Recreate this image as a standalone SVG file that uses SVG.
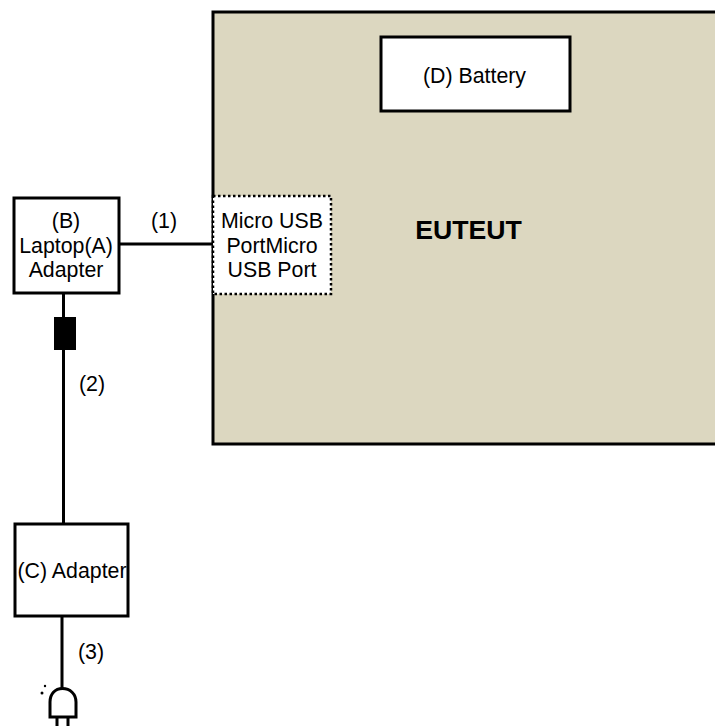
<svg xmlns="http://www.w3.org/2000/svg" width="715" height="726" viewBox="0 0 715 726">
<style>
.b{stroke:#000;stroke-width:3;fill:#fff}
.w{stroke:#000;stroke-width:3;fill:none}
text{font-family:"Liberation Sans",Arial,sans-serif;font-size:21.330px;fill:#000;text-anchor:middle}
</style>
<rect width="715" height="726" fill="#fff"/>
<g id="eut"><path d="M716 12H213V444H716" fill="#dcd7c0" stroke="#000" stroke-width="3"/><text x="468.500" y="239" style="font-size:26.670px;font-weight:bold">EUTEUT</text></g>
<g id="battery"><rect class="b" x="381" y="37" width="189" height="74"/><text x="474.500" y="83">(D) Battery</text></g>
<g id="port"><rect x="213" y="196" width="118" height="98" fill="#fff" stroke="#000" stroke-width="2.500" stroke-dasharray="2.500 2.500"/><text x="272" y="228">Micro USB</text><text x="272" y="253">PortMicro</text><text x="272" y="277">USB Port</text></g>
<g id="laptop"><rect class="b" x="14" y="198" width="105" height="95"/><text x="66" y="228">(B)</text><text x="66" y="253">Laptop(A)</text><text x="66" y="277">Adapter</text></g>
<g id="adapter"><rect class="b" x="15" y="524" width="113" height="92"/><text x="72" y="578">(C) Adapter</text></g>
<g id="connectors">
<path class="w" d="M119 244H213M63.500 293V524M62 616V688"/>
<rect x="54" y="317" width="22" height="33" fill="#000"/>
</g>
<g id="plug">
<path class="w" d="M50 717V702C50 694 55 688.500 62.500 688.500S76 694 76 702V717Z"/>
<path class="w" d="M57 717V726M68 717V726"/>
<circle cx="45" cy="686" r="1.200"/><circle cx="42" cy="693" r="1.500"/>
</g>
<g id="labels"><text x="164" y="228">(1)</text><text x="92" y="391">(2)</text><text x="91" y="659">(3)</text></g>
</svg>
